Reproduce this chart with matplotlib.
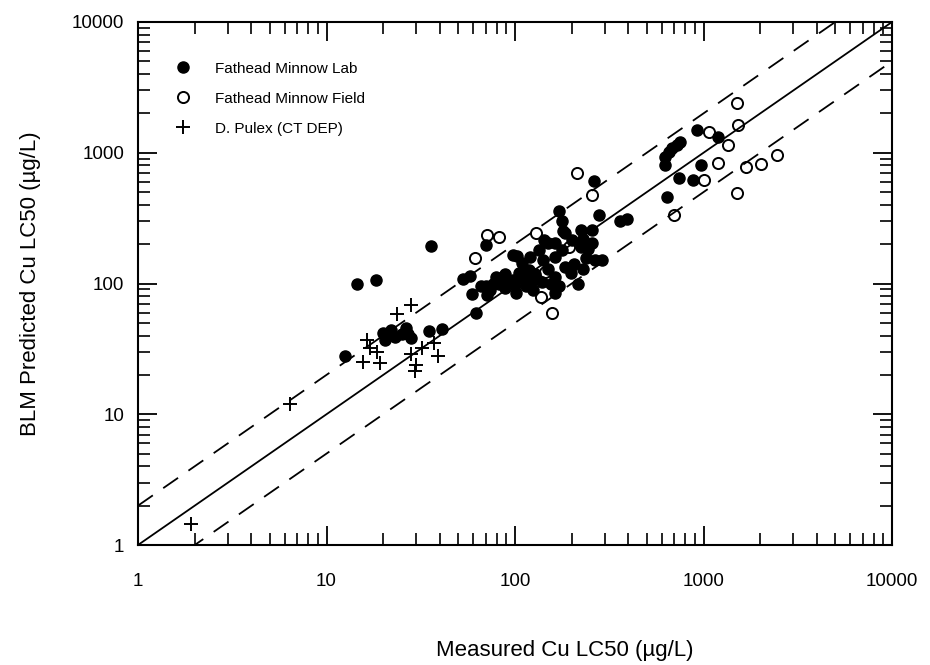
import matplotlib.pyplot as plt
from matplotlib.ticker import FixedLocator, LogLocator, NullFormatter, FixedFormatter

plt.rcParams['font.family'] = ['Liberation Sans', 'DejaVu Sans']

# Fathead Minnow Lab (measured, predicted) in ug/L
lab_x = [12.5, 14.5, 18.3, 36, 20, 20.5, 22, 23, 25, 26.5, 27, 28, 35, 41,
         53, 58, 59, 62,
         70, 97, 103, 70, 74, 79, 82, 71, 97, 101, 109, 119, 124, 114, 134, 142,
         164, 164, 178, 185, 164, 171, 164, 185, 223, 256, 223, 256, 237, 267,
         290, 197, 139, 124, 262, 171, 178, 278, 362, 393,
         76, 88, 92, 105, 112, 128, 150, 155, 205, 215, 230, 245, 140, 200,
         120, 88, 66, 100, 150, 180, 230,
         920, 1190, 627, 653, 680, 722, 750, 627, 972, 738, 885, 640]
lab_y = [28, 100, 106, 195, 42, 37, 44, 39, 41, 46, 41, 38, 43, 45,
         108, 114, 83, 59,
         197, 165, 162, 95, 89, 113, 100, 82, 106, 84, 143, 127, 106, 95, 180, 215,
         203, 160, 180, 134, 113, 95, 84, 242, 257, 257, 191, 203, 156, 151,
         151, 120, 103, 89, 610, 360, 300, 334, 302, 310,
         100, 92, 105, 120, 110, 118, 128, 100, 140, 100, 130, 185, 150, 215,
         160, 118, 96, 98, 205, 250, 220,
         1490, 1330, 930, 1020, 1080, 1150, 1200, 806, 806, 638, 619, 456]

# Fathead Minnow Field
field_x = [214, 256, 71, 82, 61, 137, 157, 129, 145, 193,
           1500, 1530, 1070, 1345, 1200, 1690, 2030, 2440, 1000, 1500, 694]
field_y = [700, 475, 235, 226, 156, 79, 59, 242, 122, 191,
           2400, 1630, 1450, 1150, 830, 780, 820, 960, 620, 490, 334]

# D. Pulex (CT DEP)
pulex_x = [1.9, 6.4, 16.5, 17, 18.5, 15.6, 19.2, 23.7, 28, 28, 32, 37, 39, 30, 29.5]
pulex_y = [1.45, 12, 37, 32, 30, 25, 24.5, 58, 69, 29, 32, 35, 28, 24, 21.5]

tick_vals = [1, 10, 100, 1000, 10000]
tick_labels = ['1', '10', '100', '1000', '10000']
line_x = [1, 10000]

fig, ax = plt.subplots(figsize=(9.3, 6.65), dpi=100)
fig.subplots_adjust(left=138 / 930, right=892 / 930, bottom=1 - 545 / 665, top=1 - 22 / 665)

# 1:1 line and factor-of-two lines
ax.plot(line_x, line_x, color='black', lw=1.3)
ax.plot(line_x, [v * 2 for v in line_x], color='black', lw=1.3, dashes=(10, 7))
ax.plot(line_x, [v / 2 for v in line_x], color='black', lw=1.3, dashes=(10, 7))

ax.plot(lab_x, lab_y, 'o', color='black', ms=8, ls='none', label='Fathead Minnow Lab')
ax.plot(field_x, field_y, 'o', mfc='none', mec='black', mew=1.4, ms=8, ls='none',
        label='Fathead Minnow Field')
ax.plot(pulex_x, pulex_y, '+', color='black', mew=1.4, ms=10, ls='none',
        label='D. Pulex (CT DEP)')

ax.set_xscale('log')
ax.set_yscale('log')
ax.set_xlim(1, 10000)
ax.set_ylim(1, 10000)

for axis in (ax.xaxis, ax.yaxis):
    axis.set_major_locator(FixedLocator(tick_vals))
    axis.set_major_formatter(FixedFormatter(tick_labels))
    axis.set_minor_locator(LogLocator(base=10, subs=range(2, 10)))
    axis.set_minor_formatter(NullFormatter())

ax.tick_params(which='both', direction='in', top=True, right=True, labelsize=13.5)
ax.tick_params(which='major', length=14, width=1.3)
ax.tick_params(which='minor', length=8.5, width=1.2)
ax.tick_params(axis='x', pad=20)
ax.tick_params(axis='y', pad=10)
for s in ax.spines.values():
    s.set_linewidth(1.5)

ax.set_xlabel('Measured Cu LC50 (\u00b5g/L)', fontsize=16)
ax.set_ylabel('BLM Predicted Cu LC50 (\u00b5g/L)', fontsize=16)
ax.xaxis.set_label_coords(0.566, -0.182)
ax.yaxis.set_label_coords(-0.128, 0.5)

ax.legend(loc='upper left', bbox_to_anchor=(0.05, 0.924), frameon=False, fontsize=11,
          handlelength=1.0, handletextpad=1.6, labelspacing=1.05, borderpad=0,
          borderaxespad=0)

fig.savefig('out.png', dpi=100)
